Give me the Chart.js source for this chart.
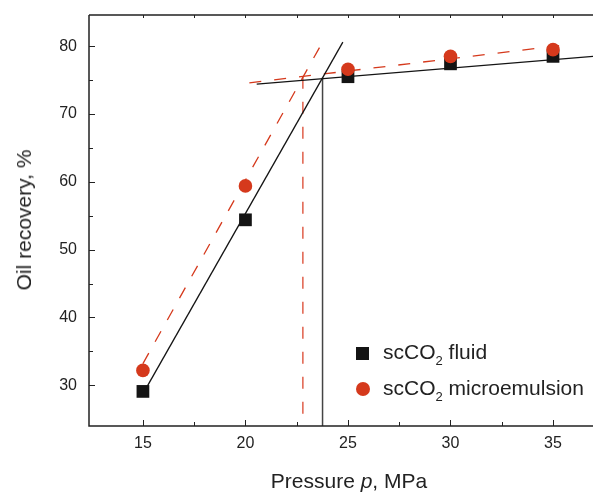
<!DOCTYPE html>
<html>
<head>
<meta charset="utf-8">
<script src="https://cdn.jsdelivr.net/npm/chart.js@4"></script>
<style>
  body { margin: 0; background: #fff; }
  #wrap { position: relative; width: 593px; height: 492px; font-family: "Liberation Sans", Arial, sans-serif; color: #222; }
  #wrap canvas { position: absolute; left: 0; top: 0; }
  .ytitle { position: absolute; left: 24px; top: 220px; font-size: 21px; white-space: nowrap;
            transform: translate(-50%, -50%) rotate(-90deg); }
  .xtitle { position: absolute; left: 349px; top: 481px; font-size: 21px; white-space: nowrap;
            transform: translate(-50%, -50%); }
  .legend-item { position: absolute; font-size: 21px; line-height: 1; white-space: nowrap; }
  .legend-item sub { font-size: 13px; vertical-align: baseline; position: relative; top: 6px; }
  .mark { position: absolute; }
</style>
</head>
<body>
<div id="wrap">
  <canvas id="recoveryChart" width="593" height="492"></canvas>
  <div class="ytitle">Oil recovery, %</div>
  <div class="xtitle">Pressure <i>p</i>, MPa</div>
  <div class="mark" style="left:356px; top:347px; width:13px; height:13px; background:#141414;"></div>
  <div class="legend-item" style="left:383px; top:341px;">scCO<sub>2</sub> fluid</div>
  <div class="mark" style="left:356px; top:382px; width:14px; height:14px; border-radius:50%; background:#d5391c;"></div>
  <div class="legend-item" style="left:383px; top:377px;">scCO<sub>2</sub> microemulsion</div>
</div>

<script>
// ============================
// DATA
// ============================
const pressure = [15, 20, 25, 30, 35];
const fluidRecovery = [29.1, 54.4, 75.5, 77.4, 78.5];
const microRecovery = [32.2, 59.4, 76.6, 78.5, 79.5];

// fitted lines (two end points each)
const fluidSteepX = [15.18, 24.75];
const fluidSteepY = [29.7, 80.6];
const fluidFlatX = [20.55, 37];
const fluidFlatY = [74.4, 78.5];
const fluidVertX = [23.76, 23.76];
const fluidVertY = [75.4, 24];

const microSteepX = [15.0, 23.74];
const microSteepY = [33.2, 80.5];
const microFlatX = [20.19, 35.8];
const microFlatY = [74.6, 80.25];
const microVertX = [22.8, 22.8];
const microVertY = [75.5, 24];

// ticks
const xTickLabels = [15, 20, 25, 30, 35];
const xMinorTicks = [17.5, 22.5, 27.5, 32.5];
const xTopTicks = [15, 17.5, 20, 22.5, 25, 27.5, 30, 32.5, 35];
const yTickLabels = [30, 40, 50, 60, 70, 80];
const yMinorTicks = [35, 45, 55, 65, 75];

const BLACK = "#141414";
const RED = "#d5391c";

function toPoints(xs, ys) {
  return xs.map((x, i) => ({ x: x, y: ys[i] }));
}

function lineSet(xs, ys, color, dashed, width) {
  return {
    type: "line",
    data: toPoints(xs, ys),
    borderColor: color,
    borderWidth: width,
    borderDash: dashed ? [12, 13] : [],
    pointRadius: 0,
    showLine: true,
    fill: false,
    order: 2
  };
}

// ============================
// AXIS FRAME + INWARD TICKS
// ============================
const framePlugin = {
  id: "frame",
  afterDatasetsDraw(chart) {
    const ctx = chart.ctx;
    const area = chart.chartArea;
    const xs = chart.scales.x;
    const ys = chart.scales.y;

    ctx.save();
    ctx.strokeStyle = "#222";
    ctx.lineWidth = 1.5;

    // left, bottom, top border
    ctx.beginPath();
    ctx.moveTo(area.left, area.top);
    ctx.lineTo(area.left, area.bottom);
    ctx.lineTo(area.right, area.bottom);
    ctx.moveTo(area.left, area.top);
    ctx.lineTo(area.right, area.top);
    ctx.stroke();

    ctx.lineWidth = 1;
    ctx.beginPath();
    xTickLabels.forEach(v => {
      const px = Math.round(xs.getPixelForValue(v)) + 0.5;
      ctx.moveTo(px, area.bottom);
      ctx.lineTo(px, area.bottom - 6);
    });
    xMinorTicks.forEach(v => {
      const px = Math.round(xs.getPixelForValue(v)) + 0.5;
      ctx.moveTo(px, area.bottom);
      ctx.lineTo(px, area.bottom - 4);
    });
    xTopTicks.forEach(v => {
      const px = Math.round(xs.getPixelForValue(v)) + 0.5;
      ctx.moveTo(px, area.top);
      ctx.lineTo(px, area.top + 3);
    });
    yTickLabels.forEach(v => {
      const py = Math.round(ys.getPixelForValue(v)) + 0.5;
      ctx.moveTo(area.left, py);
      ctx.lineTo(area.left + 6, py);
    });
    yMinorTicks.forEach(v => {
      const py = Math.round(ys.getPixelForValue(v)) + 0.5;
      ctx.moveTo(area.left, py);
      ctx.lineTo(area.left + 4, py);
    });
    ctx.stroke();
    ctx.restore();
  }
};

// ============================
// CHART
// ============================
const tickFont = { family: "'Liberation Sans', Arial, sans-serif", size: 16 };

new Chart(document.getElementById("recoveryChart").getContext("2d"), {
  type: "scatter",
  data: {
    datasets: [
      lineSet(fluidSteepX, fluidSteepY, BLACK, false, 1.3),
      lineSet(fluidFlatX, fluidFlatY, BLACK, false, 1.3),
      lineSet(fluidVertX, fluidVertY, "#444", false, 1.5),
      lineSet(microSteepX, microSteepY, RED, true, 1.3),
      lineSet(microFlatX, microFlatY, RED, true, 1.3),
      lineSet(microVertX, microVertY, "#e0604a", true, 1.5),
      {
        label: "scCO2 fluid",
        data: toPoints(pressure, fluidRecovery),
        pointStyle: "rect",
        pointRadius: 9,
        backgroundColor: BLACK,
        borderWidth: 0,
        order: 1
      },
      {
        label: "scCO2 microemulsion",
        data: toPoints(pressure, microRecovery),
        pointStyle: "circle",
        pointRadius: 6.8,
        backgroundColor: RED,
        borderWidth: 0,
        order: 0
      }
    ]
  },
  options: {
    responsive: false,
    animation: false,
    layout: { autoPadding: false, padding: { top: 15, right: 0, left: 0, bottom: 0 } },
    plugins: {
      legend: { display: false },
      tooltip: { enabled: false }
    },
    scales: {
      x: {
        type: "linear",
        min: 12.37,
        max: 36.95,
        grid: { display: false, drawTicks: false },
        border: { display: false },
        afterBuildTicks: scale => {
          scale.ticks = xTickLabels.map(v => ({ value: v }));
        },
        afterFit: scale => {
          scale.height = 66;
          scale.paddingLeft = 0;
          scale.paddingRight = 0;
        },
        ticks: { color: "#222", font: tickFont, padding: 8, maxRotation: 0 }
      },
      y: {
        type: "linear",
        min: 24,
        max: 84.6,
        grid: { display: false, drawTicks: false },
        border: { display: false },
        afterBuildTicks: scale => {
          scale.ticks = yTickLabels.map(v => ({ value: v }));
        },
        afterFit: scale => {
          scale.width = 89;
          scale.paddingTop = 0;
          scale.paddingBottom = 0;
        },
        ticks: { color: "#222", font: tickFont, padding: 12 }
      }
    }
  },
  plugins: [framePlugin]
});
</script>
</body>
</html>
